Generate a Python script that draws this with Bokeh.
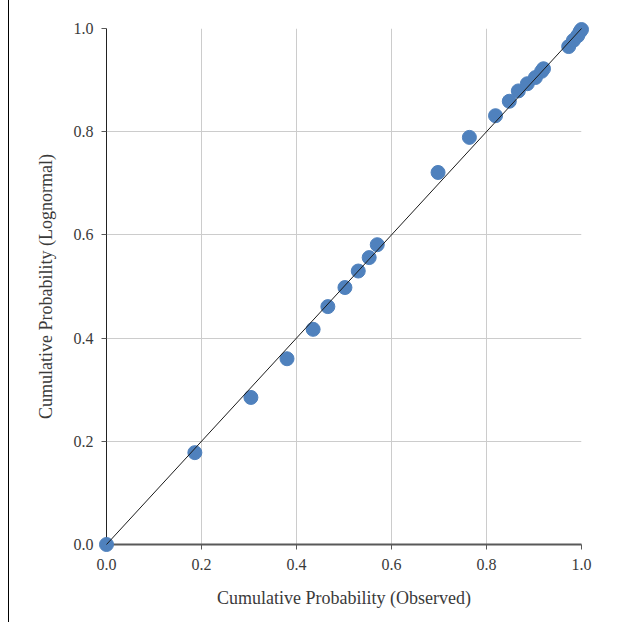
from bokeh.plotting import figure
from bokeh.models import FixedTicker, PrintfTickFormatter, Label
from bokeh.embed import file_html
from bokeh.resources import INLINE

observed = [0.0, 0.186, 0.304, 0.380, 0.435, 0.466, 0.502, 0.530, 0.553, 0.570,
            0.698, 0.764, 0.819, 0.848, 0.867, 0.886, 0.903, 0.916, 0.920,
            0.973, 0.983, 0.992, 0.997, 1.0]
lognormal = [0.0, 0.178, 0.285, 0.360, 0.417, 0.461, 0.498, 0.530, 0.556, 0.581,
             0.721, 0.789, 0.831, 0.859, 0.879, 0.893, 0.905, 0.917, 0.922,
             0.965, 0.977, 0.986, 0.994, 0.998]
ref_line = [0.0, 1.0]
ticks = [0.0, 0.2, 0.4, 0.6, 0.8, 1.0]
title_text = "Chart B2: PP Plot"

FONT = "Liberation Serif"

p = figure(width=609, height=640, output_backend="svg", toolbar_location=None,
           x_range=(0, 1), y_range=(0, 1),
           min_border_left=97, min_border_right=37, min_border_top=40, min_border_bottom=84)
p.styles = {"margin-top": "-12px", "margin-left": "8px", "border-left": "1px solid #000000"}
p.outline_line_color = None
p.background_fill_color = "white"
p.border_fill_color = "white"

p.scatter(observed, lognormal, size=14, fill_color="#4F81BD", line_color="#4F81BD",
          level="overlay")
p.line(ref_line, ref_line, line_color="#1a1a1a", line_width=1, level="overlay")

for ax in (p.xaxis[0], p.yaxis[0]):
    ax.ticker = FixedTicker(ticks=ticks)
    ax.formatter = PrintfTickFormatter(format="%.1f")
    ax.minor_tick_line_color = None
    ax.major_tick_in = 0
    ax.major_tick_out = 5
    ax.major_label_text_font = FONT
    ax.major_label_text_font_size = "16px"
    ax.major_label_text_color = "#3a3a3a"
    ax.axis_label_text_font = FONT
    ax.axis_label_text_font_size = "18px"
    ax.axis_label_text_font_style = "normal"
    ax.axis_label_text_color = "#3a3a3a"

p.xaxis.axis_label = "Cumulative Probability (Observed)"
p.yaxis.axis_label = "Cumulative Probability (Lognormal)"
p.xaxis.axis_line_color = "#595959"
p.xaxis.axis_line_width = 2
p.xaxis.major_tick_line_color = "#595959"
p.yaxis.axis_line_color = "#222222"
p.yaxis.major_tick_line_color = "#595959"
p.xaxis.major_label_standoff = 9
p.yaxis.major_label_standoff = 8
p.xaxis.axis_label_standoff = 15
p.yaxis.axis_label_standoff = 15

p.xgrid.ticker = FixedTicker(ticks=ticks)
p.ygrid.ticker = FixedTicker(ticks=ticks)
p.grid.grid_line_color = "#cccccc"
p.grid.grid_line_width = 1

p.add_layout(Label(x=0.462, y=1.0, y_offset=26, text=title_text, text_align="center",
                   text_baseline="alphabetic", text_font=FONT, text_font_size="18px",
                   text_font_style="bold", text_color="#3a3a3a"))

open("out.html", "w").write(file_html(p, INLINE))
